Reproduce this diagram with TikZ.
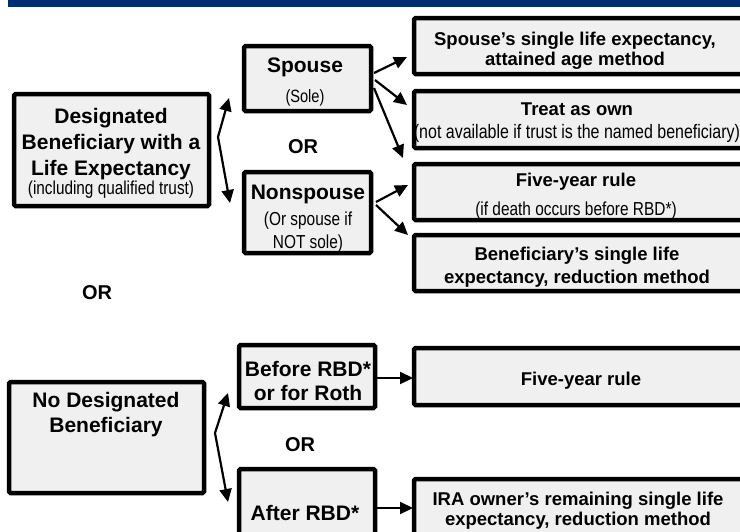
\documentclass[tikz,border=0pt]{standalone}
\usepackage{fontspec}
\setmainfont{Liberation Sans}
\newfontfamily\nw[FakeStretch=0.82]{Liberation Sans}
\usetikzlibrary{arrows.meta}
\definecolor{navy}{RGB}{0,45,114}
\definecolor{boxfill}{RGB}{240,240,240}
\newcommand\sm{\nw\mdseries\fontsize{18.8}{21}\selectfont}
\tikzset{
  box/.style={draw=black, line width=4.5pt, fill=boxfill, rounded corners=1.5pt, outer sep=0pt, inner sep=0pt},
  big/.style={font=\bfseries\fontsize{21}{26}\selectfont, align=center, inner sep=0pt},
  rbold/.style={font=\bfseries\fontsize{18.5}{20}\selectfont, align=center, inner sep=0pt},
  ortext/.style={font=\bfseries\fontsize{20}{22}\selectfont, inner sep=0pt},
  tip/.tip={Triangle[length=13pt,width=12pt]},
  arr/.style={line width=2.2pt, -tip},
  darr/.style={line width=2.2pt, tip-tip, line join=miter},
}
\begin{document}
\begin{tikzpicture}[x=1pt,y=-1pt]
\useasboundingbox (0,0) rectangle (740,531);
\clip (0,0) rectangle (740,531);
\fill[white] (0,0) rectangle (740,531);
\fill[navy] (8,0) rectangle (740,7.3);

% boxes
\node[box, minimum width=195pt, minimum height=112pt] (db) at (111.5,150) {};
\node[box, minimum width=127pt, minimum height=65pt] (sp) at (307.5,78.5) {};
\node[box, minimum width=127pt, minimum height=81pt] (ns) at (307.5,212.5) {};
\node[box, minimum width=344pt, minimum height=56pt] (sle) at (586,46) {};
\node[box, minimum width=344pt, minimum height=57pt] (own) at (586,119.5) {};
\node[box, minimum width=344pt, minimum height=56pt] (fyr) at (586,192) {};
\node[box, minimum width=344pt, minimum height=56pt] (ble) at (586,263) {};
\node[box, minimum width=195pt, minimum height=111pt] (ndb) at (106.5,437.5) {};
\node[box, minimum width=136pt, minimum height=63pt] (brbd) at (307,376.5) {};
\node[box, minimum width=136pt, minimum height=89pt] (arbd) at (307,513.5) {};
\node[box, minimum width=344pt, minimum height=57pt] (fyr2) at (586,376.5) {};
\node[box, minimum width=344pt, minimum height=79pt] (ira) at (586,518.5) {};

% texts
\node[big] (tdb) at (111,153) {Designated\\Beneficiary with a\\Life Expectancy\\[-7pt]{\sm\fontsize{18.7}{21}\selectfont (including qualified trust)}};
\node[big] (tsp) at (305,82.5) {Spouse\\[4pt]{\sm\fontsize{17.8}{20}\selectfont (Sole)}};
\node[big] (tns) at (308,218.5) {Nonspouse\\[0pt]{\sm (Or spouse if}\\[-3pt]{\sm NOT sole)}};
\node[rbold] (tsle) at (575,51) {Spouse’s single life expectancy,\\attained age method};
\node[rbold] (town) at (577,123) {Treat as own\\[3pt]{\sm\fontsize{19.5}{21}\selectfont (not available if trust is the named beneficiary)}};
\node[rbold] (tfyr) at (576,196) {Five-year rule\\[8.5pt]{\sm (if death occurs before RBD*)}};
\node[rbold] (tble) at (577,267.5) {Beneficiary’s single life\\[3pt]expectancy, reduction method};
\node[big] (tndb) at (106,414.5) {No Designated\\[-1pt]Beneficiary};
\node[big] (tbrbd) at (308,381) {Before RBD*\\[-2pt]or for Roth};
\node[big] (tarbd) at (305,513) {After RBD*};
\node[rbold] (tfyr2) at (581,381) {Five-year rule};
\node[rbold] (tira) at (578,510.5) {IRA owner’s remaining single life\\expectancy, reduction method};
\node[ortext] (or1) at (303,147) {OR};
\node[ortext] (or2) at (97,293) {OR};
\node[ortext] (or3) at (300,445) {OR};

% connectors
\draw[darr] ([xshift=-15pt,yshift=-19.5pt]sp.west) -- ([xshift=9pt,yshift=13pt]db.east) -- ([xshift=-14pt,yshift=9.5pt]ns.west);
\draw[arr] ([xshift=3pt,yshift=5.5pt]sp.east) -- ([xshift=-7pt,yshift=-11pt]sle.west);
\draw[arr] ([xshift=4pt,yshift=-1.5pt]sp.east) -- ([xshift=-7pt,yshift=14.5pt]own.west);
\draw[arr] ([xshift=3pt,yshift=-9.5pt]sp.east) -- ([xshift=-11pt,yshift=34pt]fyr.west);
\draw[arr] ([xshift=5pt,yshift=10.5pt]ns.east) -- ([xshift=-6pt,yshift=7pt]fyr.west);
\draw[arr] ([xshift=5pt,yshift=7.5pt]ns.east) -- ([xshift=-6pt,yshift=28pt]ble.west);
\draw[darr] ([xshift=-11pt,yshift=-16.5pt]brbd.west) -- ([xshift=11pt,yshift=4.5pt]ndb.east) -- ([xshift=-11pt,yshift=11.5pt]arbd.west);
\draw[arr] ([yshift=-1.5pt]brbd.east) -- ([xshift=-1pt,yshift=-1.5pt]fyr2.west);
\draw[arr] ([yshift=5.5pt]arbd.east) -- ([xshift=-1pt,yshift=10.5pt]ira.west);
\end{tikzpicture}
\end{document}
